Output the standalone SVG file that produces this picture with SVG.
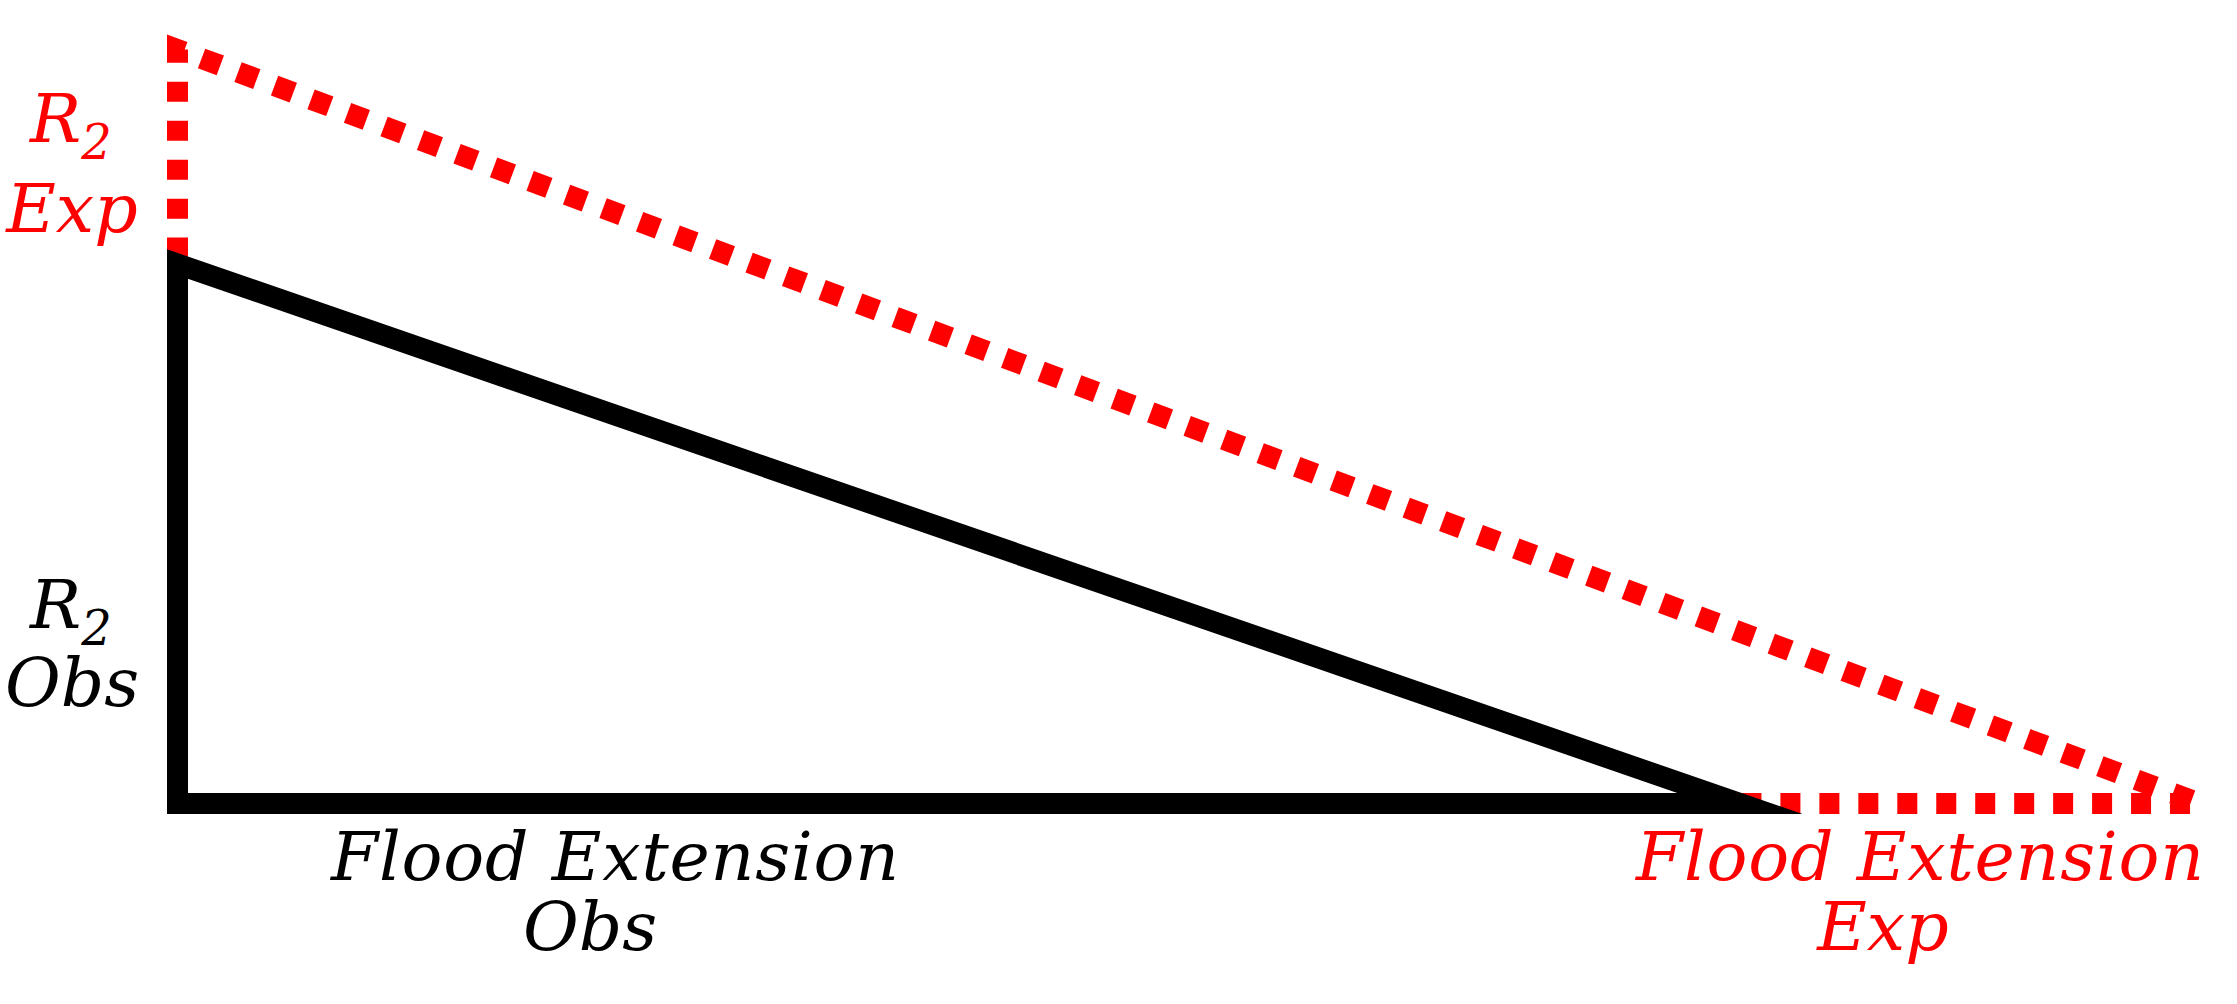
<svg xmlns="http://www.w3.org/2000/svg" width="2237" height="1004" viewBox="0 0 2237 1004">
  <style>
    .lbl { font-family: "DejaVu Serif", "Liberation Serif", serif; font-style: italic; font-size: 68px; }
    .red { fill: #ff0000; }
    .blk { fill: #000000; }
    .sub { font-size: 48px; }
  </style>
  <rect width="2237" height="1004" fill="#ffffff"/>
  <g id="expected-triangle">
    <path d="M177.5,803.5 L177.5,49.5 L2200,803.5 Z" fill="none" stroke="#ff0000" stroke-width="21" stroke-dasharray="20 18.96" stroke-dashoffset="38.5" stroke-linejoin="miter"/>
  </g>
  <g id="observed-triangle">
    <path d="M177.5,264 L177.5,803.5 L1740,803.5 Z" fill="none" stroke="#000000" stroke-width="21" stroke-linejoin="miter" stroke-miterlimit="10"/>
  </g>
  <g id="labels">
    <text class="lbl red" x="30" y="142">R<tspan class="sub" dy="17">2</tspan></text>
    <text class="lbl red" x="72" y="232" text-anchor="middle">Exp</text>
    <text class="lbl blk" x="30" y="628">R<tspan class="sub" dy="17">2</tspan></text>
    <text class="lbl blk" x="72" y="706" text-anchor="middle">Obs</text>
    <text class="lbl blk" x="331" y="880" textLength="568" lengthAdjust="spacing">Flood Extension</text>
    <text class="lbl blk" x="590" y="950" text-anchor="middle">Obs</text>
    <text class="lbl red" x="1636" y="880" textLength="568" lengthAdjust="spacing">Flood Extension</text>
    <text class="lbl red" x="1883" y="950" text-anchor="middle">Exp</text>
  </g>
</svg>
